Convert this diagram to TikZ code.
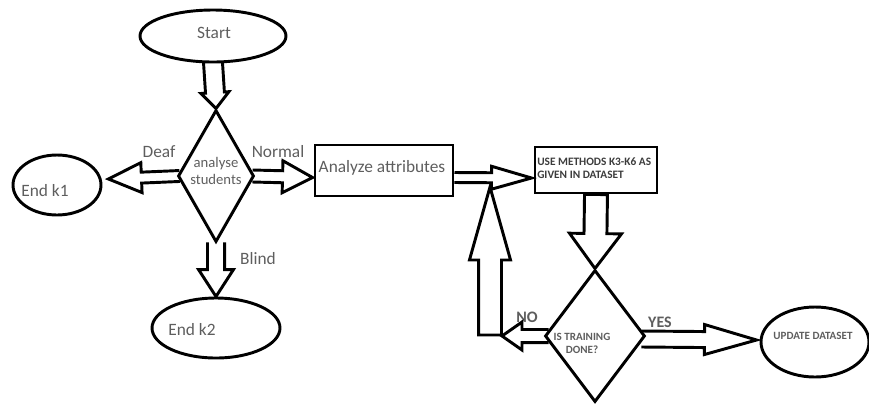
\documentclass[tikz,border=0pt]{standalone}
\usepackage{fontspec}
\setmainfont{Carlito}
\usetikzlibrary{shapes.geometric,calc}
\definecolor{inkgray}{HTML}{5E5E5E}
\definecolor{inkdark}{HTML}{3C3C3C}

% Hollow block arrow from #1 to #2: shaft half-width #3, head half-width #4,
% head length #5. The \draw is left open so the caller ends it with ";"
% (open base) or "-- cycle;" (closed base).
\newcommand\blockarrow[5]{%
  \coordinate (ba-s) at (#1);
  \coordinate (ba-e) at (#2);
  \coordinate (ba-h) at ($(ba-e)!#5!(ba-s)$);
  \draw[hollow]
    ($(ba-s)!#3!90:(ba-e)$) -- ($(ba-h)!#3!-90:(ba-s)$) --
    ($(ba-h)!#4!-90:(ba-s)$) -- (ba-e) -- ($(ba-h)!#4!90:(ba-s)$) --
    ($(ba-h)!#3!90:(ba-s)$) -- ($(ba-s)!#3!-90:(ba-e)$)}

\begin{document}
\begin{tikzpicture}[x=0.75pt, y=-0.75pt,
  outline/.style={draw=black, line width=2.2pt, inner sep=0pt},
  oval/.style={outline, ellipse},
  decision/.style={outline, diamond},
  stepbox/.style={outline, rectangle},
  hollow/.style={draw=black, line width=2.2pt, line join=miter},
  txt/.style={text=inkgray, inner sep=0pt, font=\fontsize{13}{15}\selectfont},
  smalltxt/.style={text=inkgray, inner sep=0pt, align=center, font=\fontsize{11}{12.5}\selectfont},
  captxt/.style={text=inkgray, inner sep=0pt, align=center, font=\bfseries\fontsize{8.3}{9.8}\selectfont},
  edgetxt/.style={text=inkgray, inner sep=0pt, font=\bfseries\fontsize{12}{14}\selectfont}]
\useasboundingbox (0,0) rectangle (869,405);

% shapes
\node[oval, minimum width=109.5pt, minimum height=39pt] (start) at (213,36) {};
\node[decision, minimum width=57pt, minimum height=99pt] (d1) at (216,176) {};
\node[oval, minimum width=66pt, minimum height=45pt] (endk1) at (57,185) {};
\node[oval, minimum width=96pt, minimum height=45pt] (endk2) at (216,328) {};
\node[stepbox, minimum width=103.5pt, minimum height=38.25pt] (analyze) at (384,170.5) {};
\node[stepbox, minimum width=91.5pt, minimum height=34.5pt] (use) at (596,170) {};
\node[decision, minimum width=75pt, minimum height=99pt] (d2) at (595,336) {};
\node[oval, minimum width=81pt, minimum height=52.5pt] (update) at (815,342) {};

% texts
\node[txt] (start-t) at (214,33) {Start};
\node[smalltxt] (d1-t) at (216,171) {analyse\\students};
\node[txt] (endk1-t) at (45,191) {End k1};
\node[txt] (endk2-t) at (192,330) {End k2};
\node[txt] (analyze-t) at (382,168) {Analyze attributes};
\node[anchor=west, align=left, inner sep=0pt, text=inkdark,
      font=\bfseries\fontsize{8.5}{9.8}\selectfont] (use-t) at (537,168.5)
      {USE METHODS K3-K6 AS\\GIVEN IN DATASET};
\node[captxt] (d2-t) at (582,343) {IS TRAINING\\DONE?};
\node[captxt] (update-t) at (813,336) {UPDATE DATASET};

% branch labels
\node[txt] (deaf) at (159,152) {Deaf};
\node[txt] (normal) at (278,152) {Normal};
\node[txt] (blind) at (258,259) {Blind};
\node[edgetxt] (no) at (527,317) {NO};
\node[edgetxt] (yes) at (660,322) {YES};

% loop-back points
\coordinate (notip) at (502,336);
\coordinate (loopbase) at (490,335);
\coordinate (looptip) at (490,187);

% connectors
\blockarrow{$(start.south)+(0,-1)$}{d1.north}{7.1pt}{10.5pt}{12pt};
\blockarrow{$(d1.west)+(3,0)$}{$(endk1.east)+(6,-6)$}{4.1pt}{11.25pt}{24.75pt};
\blockarrow{$(d1.east)+(-3,0)$}{$(analyze.west)+(-1,7)$}{4.5pt}{12pt}{22.5pt};
\blockarrow{$(d1.south)+(0,-1)$}{endk2.north}{6.4pt}{13.1pt}{20.25pt};
\blockarrow{$(analyze.east)+(0,7)$}{$(use.west)+(-2,8)$}{3.75pt}{8.6pt}{30pt};
\blockarrow{use.south}{d2.north}{8.6pt}{19.5pt}{26.25pt} -- cycle;
\blockarrow{$(d2.west)+(5,0)$}{notip}{4.9pt}{10.5pt}{15pt};
\blockarrow{loopbase}{looptip}{8.6pt}{15.4pt}{54.75pt} -- cycle;
\blockarrow{$(d2.east)+(-5,3)$}{$(update.west)+(-3,-2)$}{6pt}{11.25pt}{39pt};
\end{tikzpicture}
\end{document}
